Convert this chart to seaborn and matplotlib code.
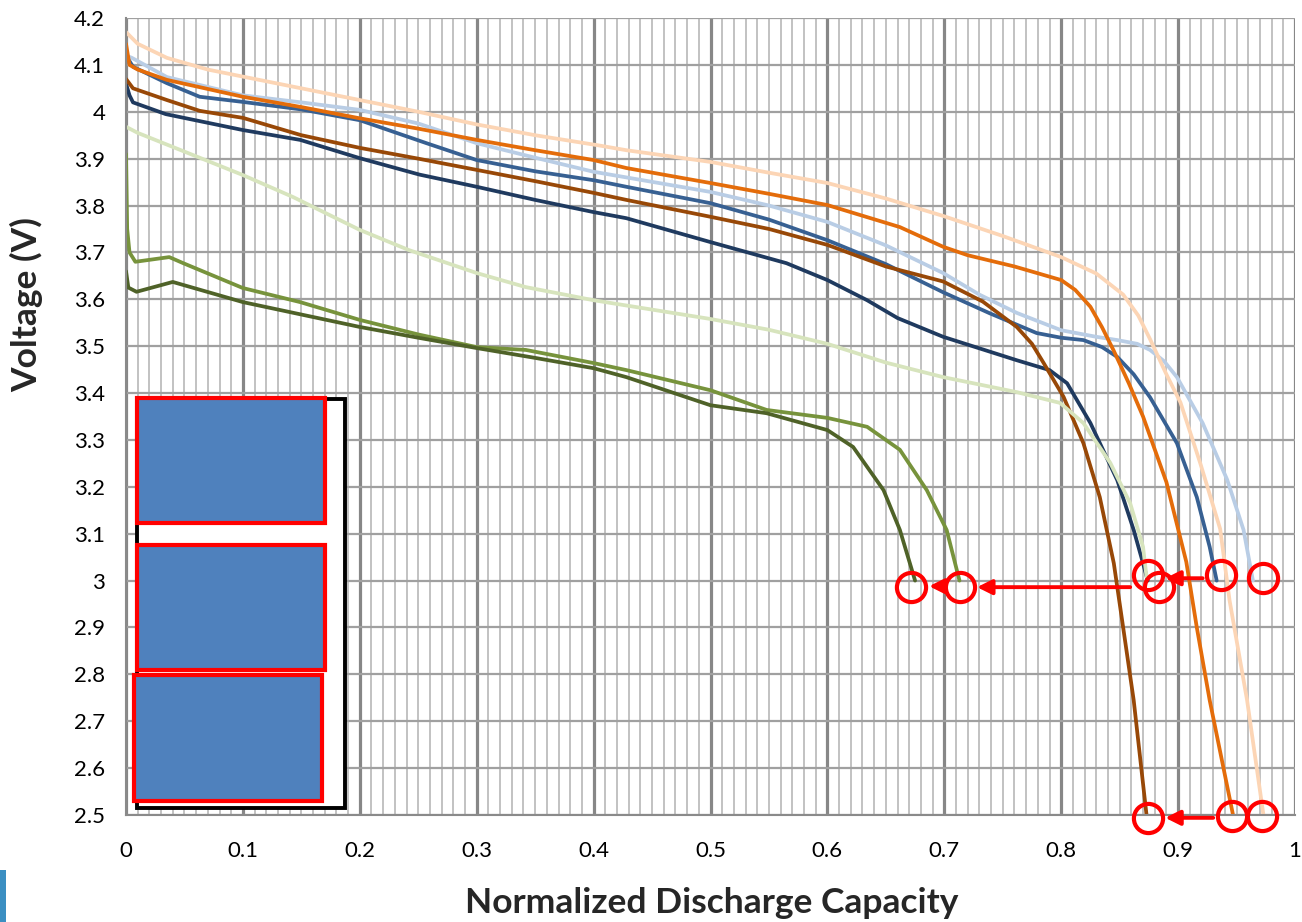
import numpy as np
import pandas as pd
import matplotlib
matplotlib.use("Agg")
import matplotlib.pyplot as plt
import seaborn as sns
from matplotlib.patches import Rectangle
from matplotlib.ticker import MultipleLocator

# discharge curves (normalized capacity, voltage)
peach_x = [0, 0.01, 0.035, 0.07, 0.1, 0.15, 0.2, 0.25, 0.3, 0.35, 0.405, 0.428, 0.5, 0.55, 0.6, 0.65, 0.7, 0.75,
           0.8, 0.83, 0.853, 0.866, 0.876, 0.89, 0.902, 0.919, 0.936, 0.944, 0.959, 0.973]
peach_v = [4.17, 4.145, 4.115, 4.09, 4.075, 4.05, 4.025, 4.0, 3.973, 3.95, 3.928, 3.918, 3.893, 3.87, 3.848, 3.815,
           3.777, 3.735, 3.69, 3.655, 3.61, 3.565, 3.515, 3.44, 3.38, 3.25, 3.11, 2.958, 2.745, 2.50]

orange_x = [0, 0.003, 0.01, 0.035, 0.1, 0.15, 0.2, 0.25, 0.3, 0.35, 0.4, 0.428, 0.5, 0.55, 0.6, 0.662, 0.699, 0.72,
            0.76, 0.8, 0.812, 0.825, 0.835, 0.845, 0.858, 0.87, 0.89, 0.907, 0.916, 0.927, 0.947]
orange_v = [4.145, 4.10, 4.09, 4.068, 4.032, 4.01, 3.986, 3.964, 3.94, 3.918, 3.897, 3.88, 3.848, 3.825, 3.801,
            3.754, 3.712, 3.694, 3.67, 3.641, 3.62, 3.584, 3.54, 3.49, 3.42, 3.35, 3.21, 3.04, 2.90, 2.745, 2.50]

lblue_x = [0, 0.005, 0.035, 0.1, 0.15, 0.2, 0.25, 0.3, 0.35, 0.4, 0.428, 0.5, 0.55, 0.6, 0.65, 0.699, 0.73, 0.762,
           0.8, 0.83, 0.848, 0.865, 0.876, 0.888, 0.899, 0.921, 0.942, 0.956, 0.964]
lblue_v = [4.12, 4.115, 4.074, 4.035, 4.02, 4.004, 3.975, 3.933, 3.902, 3.872, 3.86, 3.829, 3.80, 3.765, 3.715,
           3.656, 3.61, 3.571, 3.534, 3.52, 3.513, 3.505, 3.492, 3.468, 3.434, 3.336, 3.215, 3.108, 3.0]

mblue_x = [0, 0.006, 0.035, 0.063, 0.1, 0.15, 0.2, 0.257, 0.3, 0.35, 0.4, 0.428, 0.5, 0.55, 0.6, 0.65, 0.699,
           0.739, 0.779, 0.80, 0.819, 0.835, 0.848, 0.862, 0.876, 0.899, 0.916, 0.927, 0.933]
mblue_v = [4.12, 4.096, 4.061, 4.032, 4.021, 4.005, 3.982, 3.933, 3.897, 3.873, 3.854, 3.84, 3.805, 3.77, 3.726,
           3.675, 3.615, 3.57, 3.528, 3.518, 3.513, 3.498, 3.477, 3.44, 3.391, 3.293, 3.178, 3.072, 3.0]

brown_x = [0, 0.006, 0.035, 0.063, 0.08, 0.1, 0.15, 0.2, 0.25, 0.3, 0.35, 0.4, 0.428, 0.5, 0.55, 0.6, 0.65, 0.699,
           0.733, 0.762, 0.775, 0.785, 0.802, 0.819, 0.833, 0.845, 0.853, 0.862, 0.873]
brown_v = [4.07, 4.05, 4.025, 4.002, 3.995, 3.987, 3.95, 3.923, 3.9, 3.876, 3.852, 3.827, 3.812, 3.776, 3.75, 3.716,
           3.67, 3.638, 3.595, 3.541, 3.505, 3.464, 3.392, 3.293, 3.178, 3.037, 2.90, 2.745, 2.50]

navy_x = [0, 0.003, 0.006, 0.034, 0.1, 0.149, 0.2, 0.251, 0.3, 0.35, 0.4, 0.428, 0.5, 0.565, 0.6, 0.634, 0.66,
          0.699, 0.762, 0.79, 0.805, 0.825, 0.848, 0.862, 0.870, 0.874]
navy_v = [4.06, 4.035, 4.02, 3.995, 3.961, 3.94, 3.901, 3.866, 3.84, 3.812, 3.786, 3.773, 3.722, 3.677, 3.641,
          3.598, 3.56, 3.52, 3.47, 3.449, 3.421, 3.336, 3.214, 3.108, 3.037, 3.0]

lgreen_x = [0, 0.01, 0.035, 0.1, 0.143, 0.2, 0.242, 0.3, 0.342, 0.4, 0.45, 0.5, 0.55, 0.6, 0.65, 0.699, 0.762,
            0.799, 0.819, 0.842, 0.859, 0.870, 0.873]
lgreen_v = [3.968, 3.955, 3.93, 3.865, 3.818, 3.748, 3.705, 3.656, 3.626, 3.598, 3.578, 3.558, 3.535, 3.505, 3.465,
            3.434, 3.402, 3.379, 3.336, 3.251, 3.165, 3.072, 3.008]

green_x = [0, 0.001, 0.003, 0.008, 0.037, 0.049, 0.1, 0.149, 0.2, 0.25, 0.3, 0.342, 0.4, 0.428, 0.5, 0.548, 0.6,
           0.634, 0.662, 0.685, 0.702, 0.713]
green_v = [3.91, 3.75, 3.70, 3.68, 3.69, 3.677, 3.624, 3.594, 3.556, 3.525, 3.498, 3.492, 3.464, 3.449, 3.406,
           3.364, 3.347, 3.328, 3.279, 3.193, 3.108, 3.0]

dgreen_x = [0, 0.002, 0.009, 0.04, 0.1, 0.2, 0.25, 0.3, 0.35, 0.4, 0.428, 0.5, 0.548, 0.6, 0.622, 0.648, 0.662,
            0.675]
dgreen_v = [3.66, 3.625, 3.616, 3.637, 3.594, 3.541, 3.518, 3.496, 3.475, 3.453, 3.434, 3.374, 3.357, 3.321,
            3.285, 3.193, 3.108, 3.0]

series = {
    "A": (navy_x, navy_v, "#1f3a5f"),
    "B": (mblue_x, mblue_v, "#376092"),
    "C": (lblue_x, lblue_v, "#b9cde5"),
    "D": (brown_x, brown_v, "#984807"),
    "E": (orange_x, orange_v, "#e46c0a"),
    "F": (peach_x, peach_v, "#fcd5b5"),
    "G": (lgreen_x, lgreen_v, "#d7e4bd"),
    "H": (green_x, green_v, "#77933c"),
    "I": (dgreen_x, dgreen_v, "#4f6228"),
}

# end-of-discharge circles and arrows (hand annotations)
circle_x = [0.6715, 0.7134, 0.8742, 0.8837, 0.9367, 0.9726, 0.8742, 0.9461, 0.9718]
circle_v = [2.986, 2.986, 3.012, 2.986, 3.012, 3.005, 2.494, 2.498, 2.498]
arrow_from = [(0.859, 2.986), (0.921, 3.005), (0.701, 2.988), (0.930, 2.494)]
arrow_to = [(0.728, 2.986), (0.889, 3.005), (0.687, 2.988), (0.889, 2.494)]

frames = []
for name, (xs, vs, _) in series.items():
    frames.append(pd.DataFrame({"cap": xs, "volt": vs, "cell": name}))
df = pd.concat(frames, ignore_index=True)
palette = {k: v[2] for k, v in series.items()}

sns.set_theme(style="white")
plt.rcParams['font.family'] = ['Lato', 'DejaVu Sans']

fig = plt.figure(figsize=(13.02, 9.22), dpi=100)
ax = fig.add_axes([126 / 1302, 1 - 815 / 922, (1295 - 126) / 1302, (815 - 18) / 922])

# grid
ax.set_xlim(0, 1)
ax.set_ylim(2.5, 4.2)
ax.xaxis.set_major_locator(MultipleLocator(0.1))
ax.xaxis.set_minor_locator(MultipleLocator(0.01))
ax.yaxis.set_major_locator(MultipleLocator(0.1))
ax.grid(which='minor', axis='x', color='#bdbdbd', lw=1.3)
ax.grid(which='major', axis='x', color='#878787', lw=2.3)
ax.grid(which='major', axis='y', color='#a0a0a0', lw=1.6)
ax.set_axisbelow(True)
for s in ['top', 'right']:
    ax.spines[s].set_visible(False)
for s in ['left', 'bottom']:
    ax.spines[s].set_color('#8a8a8a')
    ax.spines[s].set_linewidth(1.5)

sns.lineplot(data=df, x="cap", y="volt", hue="cell", palette=palette, sort=False,
             estimator=None, legend=False, linewidth=2.7, ax=ax)

ax.plot(circle_x, circle_v, 'o', ms=21, mfc='none', mec='#ff0000', mew=3.0, zorder=6, clip_on=False)
for a, b in zip(arrow_from, arrow_to):
    ax.annotate("", xy=b, xytext=a, annotation_clip=False,
                arrowprops=dict(arrowstyle='-|>', color='#ff0000', lw=2.8, mutation_scale=22,
                                shrinkA=0, shrinkB=0), zorder=7)

# legend area, masked by blue boxes
ax.add_patch(Rectangle((0.0094, 2.515), 0.1779, 0.872, facecolor='white', edgecolor='black', lw=2.8, zorder=8))
for x0, y0, w, h in [(0.0094, 3.123, 0.1608, 0.266), (0.0094, 2.809, 0.1608, 0.267), (0.0068, 2.530, 0.1609, 0.269)]:
    ax.add_patch(Rectangle((x0, y0), w, h, facecolor='#4f81bd', edgecolor='#ff0000', lw=3.0, zorder=9))

ax.set_xticks(np.arange(0, 1.01, 0.1))
ax.set_xticklabels(["0", "0.1", "0.2", "0.3", "0.4", "0.5", "0.6", "0.7", "0.8", "0.9", "1"])
ax.set_yticks(np.round(np.arange(2.5, 4.21, 0.1), 1))
ax.set_yticklabels(["2.5", "2.6", "2.7", "2.8", "2.9", "3", "3.1", "3.2", "3.3", "3.4", "3.5", "3.6", "3.7",
                    "3.8", "3.9", "4", "4.1", "4.2"])
ax.tick_params(axis='both', which='major', labelsize=16, colors='#8a8a8a', labelcolor='black',
               length=6, width=1.3)
ax.tick_params(axis='x', which='major', pad=13)
ax.tick_params(axis='y', which='major', pad=9)
ax.set_xlabel("")
ax.set_ylabel("")

fig.text(712 / 1302, 1 - 903 / 922, "Normalized Discharge Capacity", ha='center', va='center',
         fontsize=25.5, fontweight='bold')
fig.text(27 / 1302, 1 - 305 / 922, "Voltage (V)", ha='center', va='center', rotation=90,
         fontsize=25.5, fontweight='bold')

fig.patches.append(Rectangle((0, 0), 6 / 1302, 52 / 922, transform=fig.transFigure,
                             facecolor='#3b8fc2', edgecolor='none'))

fig.savefig("out.png", dpi=100)
